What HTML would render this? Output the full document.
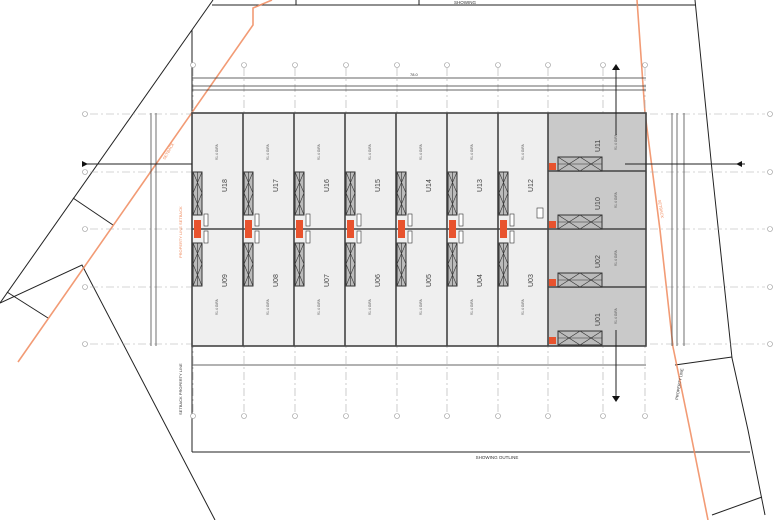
<!DOCTYPE html>
<html><head><meta charset="utf-8"><style>
html,body{margin:0;padding:0;background:#fff;width:780px;height:520px;overflow:hidden}
svg{display:block}
text{font-family:"Liberation Sans",sans-serif}
</style></head><body>
<svg width="780" height="520" viewBox="0 0 780 520" xmlns="http://www.w3.org/2000/svg">
<defs>
<g id="door">
<rect x="0" y="0" width="9" height="43" fill="#bbb" stroke="#333" stroke-width="1"/>
<path d="M0 0 L9 21 L0 43 M9 0 L0 21 L9 43 M4.5 0 V43" stroke="#333" stroke-width="0.6" fill="none"/>
</g>
<g id="rdoor">
<rect x="0" y="0" width="44" height="14" fill="#bbb" stroke="#333" stroke-width="1"/>
<path d="M0 0 L22 14 L44 0 M0 14 L22 0 L44 14 M0 7 H44" stroke="#333" stroke-width="0.6" fill="none"/>
</g>
</defs>

<!-- site boundary lines -->
<g stroke="#222" stroke-width="1" fill="none">
<line x1="0" y1="303" x2="213" y2="0"/>
<polyline points="0,303 82,265 215,520"/>
<line x1="212" y1="5" x2="696" y2="5"/>
<line x1="296" y1="0" x2="296" y2="5"/>
<line x1="419" y1="0" x2="419" y2="5"/>
<polyline points="695,0 712,170 732,358 748,430 765,515"/>
<line x1="192" y1="30" x2="192" y2="452"/>
<line x1="192" y1="452" x2="750" y2="452"/>
<line x1="7" y1="292" x2="48" y2="318"/>
<line x1="73" y1="198" x2="113" y2="225"/>
<line x1="675" y1="365" x2="732" y2="357"/>
<line x1="712" y1="515" x2="762" y2="497"/>
</g>

<!-- orange lines -->
<g stroke="#f08a5d" stroke-width="1.6" fill="none" opacity="0.85">
<polyline points="272,0 253,8 253,25 18,362"/>
<polyline points="637,0 645,113 660,230 673,347 690,430 708,520"/>
</g>
<text x="0" y="0" transform="translate(182,258) rotate(-90)" font-size="4" fill="#f08a5d">PROPERTY LINE SETBACK</text>
<text x="0" y="0" transform="translate(165,160) rotate(-60)" font-size="4" fill="#f08a5d">SETBACK</text>
<text x="0" y="0" transform="translate(658,200) rotate(80)" font-size="4" fill="#f08a5d">SETBACK</text>

<!-- grid lines -->
<g stroke="#aaa" stroke-width="0.6" stroke-dasharray="8 3 2 3" fill="none">
<line x1="90" y1="114" x2="765" y2="114"/>
<line x1="90" y1="172" x2="765" y2="172"/>
<line x1="90" y1="229" x2="765" y2="229"/>
<line x1="90" y1="287" x2="765" y2="287"/>
<line x1="90" y1="344" x2="765" y2="344"/>
<line x1="193" y1="68" x2="193" y2="413"/>
<line x1="244" y1="68" x2="244" y2="413"/>
<line x1="295" y1="68" x2="295" y2="413"/>
<line x1="346" y1="68" x2="346" y2="413"/>
<line x1="397" y1="68" x2="397" y2="413"/>
<line x1="447" y1="68" x2="447" y2="413"/>
<line x1="498" y1="68" x2="498" y2="413"/>
<line x1="548" y1="68" x2="548" y2="413"/>
<line x1="603" y1="68" x2="603" y2="413"/>
<line x1="645" y1="68" x2="645" y2="413"/>
</g>
<g stroke="#999" stroke-width="0.6" fill="#fff">
<circle cx="85" cy="114" r="2.5"/><circle cx="85" cy="172" r="2.5"/><circle cx="85" cy="229" r="2.5"/><circle cx="85" cy="287" r="2.5"/><circle cx="85" cy="344" r="2.5"/>
<circle cx="770" cy="114" r="2.5"/><circle cx="770" cy="172" r="2.5"/><circle cx="770" cy="229" r="2.5"/><circle cx="770" cy="287" r="2.5"/><circle cx="770" cy="344" r="2.5"/>
<circle cx="193" cy="65" r="2.5"/><circle cx="244" cy="65" r="2.5"/><circle cx="295" cy="65" r="2.5"/><circle cx="346" cy="65" r="2.5"/><circle cx="397" cy="65" r="2.5"/><circle cx="447" cy="65" r="2.5"/><circle cx="498" cy="65" r="2.5"/><circle cx="548" cy="65" r="2.5"/><circle cx="603" cy="65" r="2.5"/><circle cx="645" cy="65" r="2.5"/>
<circle cx="193" cy="416" r="2.5"/><circle cx="244" cy="416" r="2.5"/><circle cx="295" cy="416" r="2.5"/><circle cx="346" cy="416" r="2.5"/><circle cx="397" cy="416" r="2.5"/><circle cx="447" cy="416" r="2.5"/><circle cx="498" cy="416" r="2.5"/><circle cx="548" cy="416" r="2.5"/><circle cx="603" cy="416" r="2.5"/><circle cx="645" cy="416" r="2.5"/>
</g>

<!-- dimension lines -->
<g stroke="#333" stroke-width="0.7" fill="none">
<line x1="192" y1="78" x2="646" y2="78"/>
<line x1="192" y1="86" x2="646" y2="86"/>
<line x1="192" y1="90" x2="646" y2="90"/>
<line x1="192" y1="365" x2="646" y2="365"/>
<line x1="151" y1="113" x2="151" y2="346"/>
<line x1="156" y1="113" x2="156" y2="346"/>
<line x1="672" y1="113" x2="672" y2="346"/>
<line x1="677" y1="113" x2="677" y2="346"/>
<line x1="684" y1="113" x2="684" y2="346"/>
</g>
<text x="410" y="76" font-size="4" fill="#333">78.0</text>
<text x="497" y="459" font-size="4.5" fill="#333" text-anchor="middle">SHOWING OUTLINE</text>
<text x="465" y="4" font-size="4.5" fill="#333" text-anchor="middle">SHOWING</text>
<text x="0" y="0" transform="translate(182,415) rotate(-90)" font-size="4" fill="#333">SETBACK PROPERTY LINE</text>
<text x="0" y="0" transform="translate(678,400) rotate(-80)" font-size="4" fill="#333">PROPERTY LINE</text>

<!-- building -->
<rect x="192" y="113" width="356" height="233" fill="#efefef"/>
<rect x="548" y="113" width="98" height="233" fill="#c9c9c9"/>
<g stroke="#444" stroke-width="1.6" fill="none">
<rect x="192" y="113" width="454" height="233"/>
<line x1="192" y1="229" x2="548" y2="229"/>
<line x1="243" y1="113" x2="243" y2="346"/>
<line x1="294" y1="113" x2="294" y2="346"/>
<line x1="345" y1="113" x2="345" y2="346"/>
<line x1="396" y1="113" x2="396" y2="346"/>
<line x1="447" y1="113" x2="447" y2="346"/>
<line x1="498" y1="113" x2="498" y2="346"/>
<line x1="548" y1="113" x2="548" y2="346"/>
<line x1="548" y1="171" x2="646" y2="171"/>
<line x1="548" y1="229" x2="646" y2="229"/>
<line x1="548" y1="287" x2="646" y2="287"/>
</g>

<!-- doors left units -->
<g>
<use href="#door" x="193" y="172"/><use href="#door" x="193" y="243"/>
<use href="#door" x="244" y="172"/><use href="#door" x="244" y="243"/>
<use href="#door" x="295" y="172"/><use href="#door" x="295" y="243"/>
<use href="#door" x="346" y="172"/><use href="#door" x="346" y="243"/>
<use href="#door" x="397" y="172"/><use href="#door" x="397" y="243"/>
<use href="#door" x="448" y="172"/><use href="#door" x="448" y="243"/>
<use href="#door" x="499" y="172"/><use href="#door" x="499" y="243"/>
</g>
<g fill="#e8532e">
<rect x="194" y="220" width="7" height="18"/><rect x="245" y="220" width="7" height="18"/><rect x="296" y="220" width="7" height="18"/><rect x="347" y="220" width="7" height="18"/><rect x="398" y="220" width="7" height="18"/><rect x="449" y="220" width="7" height="18"/><rect x="500" y="220" width="7" height="18"/>
<rect x="549" y="163" width="7" height="7"/><rect x="549" y="221" width="7" height="7"/><rect x="549" y="279" width="7" height="7"/><rect x="549" y="337" width="7" height="7"/>
</g>
<g fill="#fff" stroke="#333" stroke-width="0.6">
<rect x="204" y="214" width="4" height="12"/><rect x="204" y="231" width="4" height="12"/>
<rect x="255" y="214" width="4" height="12"/><rect x="255" y="231" width="4" height="12"/>
<rect x="306" y="214" width="4" height="12"/><rect x="306" y="231" width="4" height="12"/>
<rect x="357" y="214" width="4" height="12"/><rect x="357" y="231" width="4" height="12"/>
<rect x="408" y="214" width="4" height="12"/><rect x="408" y="231" width="4" height="12"/>
<rect x="459" y="214" width="4" height="12"/><rect x="459" y="231" width="4" height="12"/>
<rect x="510" y="214" width="4" height="12"/><rect x="510" y="231" width="4" height="12"/>
<rect x="537" y="208" width="6" height="10"/>
</g>
<!-- right doors -->
<use href="#rdoor" x="558" y="157"/><use href="#rdoor" x="558" y="215"/><use href="#rdoor" x="558" y="273"/><use href="#rdoor" x="558" y="331"/>

<!-- unit labels -->
<g font-size="7" fill="#444">
<text transform="translate(227,192) rotate(-90)">U18</text>
<text transform="translate(278,192) rotate(-90)">U17</text>
<text transform="translate(329,192) rotate(-90)">U16</text>
<text transform="translate(380,192) rotate(-90)">U15</text>
<text transform="translate(431,192) rotate(-90)">U14</text>
<text transform="translate(482,192) rotate(-90)">U13</text>
<text transform="translate(533,192) rotate(-90)">U12</text>
<text transform="translate(227,287) rotate(-90)">U09</text>
<text transform="translate(278,287) rotate(-90)">U08</text>
<text transform="translate(329,287) rotate(-90)">U07</text>
<text transform="translate(380,287) rotate(-90)">U06</text>
<text transform="translate(431,287) rotate(-90)">U05</text>
<text transform="translate(482,287) rotate(-90)">U04</text>
<text transform="translate(533,287) rotate(-90)">U03</text>
<text transform="translate(600,152) rotate(-90)">U11</text>
<text transform="translate(600,210) rotate(-90)">U10</text>
<text transform="translate(600,268) rotate(-90)">U02</text>
<text transform="translate(600,326) rotate(-90)">U01</text>
</g>
<g font-size="3.5" fill="#555">
<text transform="translate(218,160) rotate(-90)">91.4 GIFA</text>
<text transform="translate(269,160) rotate(-90)">91.4 GIFA</text>
<text transform="translate(320,160) rotate(-90)">91.4 GIFA</text>
<text transform="translate(371,160) rotate(-90)">91.4 GIFA</text>
<text transform="translate(422,160) rotate(-90)">91.4 GIFA</text>
<text transform="translate(473,160) rotate(-90)">91.4 GIFA</text>
<text transform="translate(524,160) rotate(-90)">91.4 GIFA</text>
<text transform="translate(218,315) rotate(-90)">91.4 GIFA</text>
<text transform="translate(269,315) rotate(-90)">91.4 GIFA</text>
<text transform="translate(320,315) rotate(-90)">91.4 GIFA</text>
<text transform="translate(371,315) rotate(-90)">91.4 GIFA</text>
<text transform="translate(422,315) rotate(-90)">91.4 GIFA</text>
<text transform="translate(473,315) rotate(-90)">91.4 GIFA</text>
<text transform="translate(524,315) rotate(-90)">91.4 GIFA</text>
<text transform="translate(617,150) rotate(-90)">91.4 GIFA</text>
<text transform="translate(617,208) rotate(-90)">91.4 GIFA</text>
<text transform="translate(617,266) rotate(-90)">91.4 GIFA</text>
<text transform="translate(617,324) rotate(-90)">91.4 GIFA</text>
</g>

<!-- section lines -->
<g stroke="#222" stroke-width="1">
<line x1="82" y1="164" x2="192" y2="164"/>
<line x1="625" y1="164" x2="745" y2="164"/>
<line x1="616" y1="68" x2="616" y2="135"/>
<line x1="616" y1="330" x2="616" y2="400"/>
</g>
<g fill="#111">
<polygon points="82,161 88,164 82,167"/>
<polygon points="742,161 736,164 742,167"/>
<polygon points="612,70 616,64 620,70"/>
<polygon points="612,396 616,402 620,396"/>
</g>
</svg>
</body></html>
